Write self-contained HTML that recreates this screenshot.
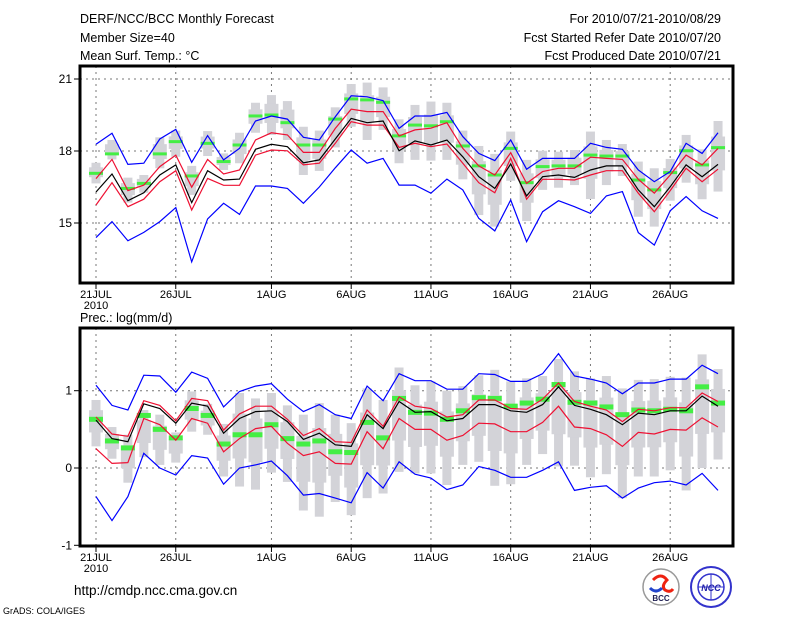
<!DOCTYPE html>
<html><head><meta charset="utf-8">
<style>
body{margin:0;background:#fff;}
svg{display:block;font-family:"Liberation Sans",sans-serif;}
</style></head>
<body>
<svg id="chart" width="800" height="618" viewBox="0 0 800 618">
<rect x="0" y="0" width="800" height="618" fill="#fff"/>
<g font-size="12.5" fill="#000">
<text x="80" y="23">DERF/NCC/BCC Monthly Forecast</text>
<text x="80" y="42">Member Size=40</text>
<text x="80" y="60">Mean Surf. Temp.: °C</text>
<text x="721" y="23" text-anchor="end">For 2010/07/21-2010/08/29</text>
<text x="721" y="42" text-anchor="end">Fcst Started Refer Date 2010/07/20</text>
<text x="721" y="60" text-anchor="end">Fcst Produced Date 2010/07/21</text>
<text x="80" y="322">Prec.: log(mm/d)</text>
<text x="74" y="595" font-size="13.5">http://cmdp.ncc.cma.gov.cn</text>
<text x="3" y="614" font-size="9">GrADS: COLA/IGES</text>
</g>
<g>
<circle cx="661" cy="587" r="18" fill="#fff" stroke="#999" stroke-width="1.5"/>
<path d="M653 580 q8 -8 14 0 q-6 6 -2 10 q5 3 8 -1" fill="none" stroke="#e21" stroke-width="3"/>
<path d="M650 588 q6 6 12 0" fill="none" stroke="#24c" stroke-width="3"/>
<text x="661" y="601" font-size="8" text-anchor="middle" font-weight="bold" fill="#225">BCC</text>
</g>
<g>
<circle cx="711" cy="587" r="20" fill="#fff" stroke="#33c" stroke-width="2"/>
<ellipse cx="711" cy="587" rx="13" ry="13" fill="none" stroke="#33c" stroke-width="1.5"/>
<line x1="698" y1="587" x2="724" y2="587" stroke="#33c"/>
<line x1="711" y1="574" x2="711" y2="600" stroke="#33c"/>
<text x="711" y="591" font-size="9" text-anchor="middle" font-weight="bold" font-style="italic" fill="#22a">NCC</text>
</g>
<g id="top"></g>
<g id="bot"></g>
</svg>
<script>
const days = ["21JUL","26JUL","1AUG","6AUG","11AUG","16AUG","21AUG","26AUG"];
const tickDayIdx = [0,5,11,16,21,26,31,36];
const topTicks = [21,18,15];
const botTicks = [1,0,-1];
const blackT = [16.29,17.04,15.93,16.26,17.0,17.42,15.85,17.18,16.79,16.83,18.07,18.28,18.18,17.51,17.63,18.5,19.36,19.18,19.25,18.01,18.42,18.25,18.46,17.76,16.93,16.44,17.46,16.13,16.93,17.0,16.9,17.21,17.38,17.38,16.38,15.68,16.51,17.42,16.93,17.44];
const redUT = [16.85,17.65,16.35,16.58,17.35,17.83,16.49,17.65,17.04,17.21,18.46,18.76,18.67,17.94,17.94,18.94,19.74,19.64,19.64,18.63,18.88,18.95,19.18,18.11,17.38,17.0,17.93,16.65,17.14,17.28,17.28,17.74,17.69,17.65,16.82,16.24,17.0,17.83,17.42,18.11];
const redLT = [15.75,16.68,15.68,15.99,16.72,17.18,15.54,16.86,16.57,16.57,17.83,18.04,18.01,17.42,17.49,18.32,19.22,19.08,19.08,18.15,18.32,18.18,18.29,17.49,16.68,16.26,17.69,15.99,16.82,16.82,16.79,17.0,17.18,17.18,16.24,15.47,16.35,17.28,16.72,17.24];
const blueUT = [18.28,18.74,17.44,17.49,18.5,18.9,17.53,18.64,17.63,18.11,19.25,19.46,19.33,18.57,18.46,19.43,20.3,20.26,20.1,18.94,19.46,19.46,19.61,18.6,17.9,17.6,18.46,17.24,17.69,17.69,17.69,18.32,18.15,18.07,17.21,16.72,17.14,18.32,17.9,18.76];
const blueLT = [14.39,15.06,14.26,14.61,15.06,15.64,13.38,15.17,15.82,15.36,16.54,16.54,16.44,15.82,16.5,17.3,18.04,17.49,17.69,16.58,16.58,16.24,16.83,16.38,15.19,14.67,15.96,14.22,15.47,15.93,15.68,15.4,16.13,16.31,14.6,14.08,15.51,16.1,15.51,15.19];
const greenT = [17.07,17.88,16.44,16.65,17.88,18.39,16.96,18.32,17.56,18.25,19.46,19.5,19.18,18.25,18.25,19.33,20.17,20.13,20.03,18.63,19.08,19.05,19.22,18.21,17.38,17.0,18.11,16.68,17.35,17.38,17.38,17.83,17.79,17.79,16.79,16.38,17.1,18.01,17.42,18.14];
const whHiT = [17.51,18.46,16.89,17.0,18.57,18.85,17.38,18.83,17.9,18.76,20.01,20.33,20.08,19.01,18.85,19.82,20.79,20.85,20.65,19.32,19.92,20.06,20.01,18.85,18.21,17.88,18.81,17.63,18.01,17.97,18.04,18.81,18.46,18.29,17.56,17.28,17.67,18.67,18.07,19.25];
const whLoT = [16.65,17.65,15.85,16.26,17.28,17.76,16.17,17.79,17.21,17.49,18.76,18.67,18.46,17.0,17.17,18.15,19.01,18.46,18.88,17.49,17.63,17.6,17.63,16.82,15.33,14.85,16.76,15.08,16.38,16.47,16.58,16.0,16.58,16.96,15.26,14.85,15.93,16.68,15.99,16.31];

const blackB = [0.62,0.38,0.34,0.83,0.77,0.58,0.84,0.8,0.45,0.64,0.73,0.74,0.6,0.37,0.45,0.3,0.28,0.69,0.51,0.86,0.72,0.73,0.61,0.64,0.82,0.82,0.74,0.72,0.82,1.05,0.81,0.76,0.69,0.56,0.71,0.69,0.74,0.74,0.93,0.8];
const redUB = [0.66,0.44,0.41,0.87,0.81,0.61,0.9,0.87,0.49,0.7,0.8,0.8,0.63,0.42,0.51,0.34,0.33,0.75,0.54,0.92,0.8,0.77,0.66,0.69,0.88,0.88,0.77,0.76,0.89,1.1,0.86,0.8,0.75,0.6,0.76,0.74,0.78,0.78,0.97,0.86];
const redLB = [0.25,0.06,0.07,0.64,0.56,0.36,0.64,0.58,0.21,0.38,0.51,0.54,0.32,0.16,0.21,0.06,0.05,0.47,0.25,0.64,0.5,0.5,0.36,0.42,0.58,0.57,0.47,0.47,0.59,0.8,0.53,0.51,0.43,0.28,0.46,0.44,0.5,0.49,0.65,0.53];
const blueUB = [1.07,0.81,0.75,1.2,1.19,0.98,1.24,1.16,0.79,0.99,1.06,1.09,0.89,0.73,0.82,0.69,0.64,1.06,0.87,1.22,1.13,1.13,1.02,1.02,1.22,1.21,1.12,1.12,1.22,1.48,1.19,1.15,1.1,0.96,1.1,1.1,1.15,1.15,1.33,1.22];
const blueLB = [-0.37,-0.68,-0.37,0.19,0.0,-0.09,0.16,0.13,-0.21,0.0,0.04,0.09,-0.1,-0.35,-0.33,-0.39,-0.45,-0.06,-0.26,0.08,-0.08,-0.13,-0.28,-0.22,0.02,-0.03,-0.12,-0.12,-0.03,0.08,-0.29,-0.25,-0.23,-0.39,-0.26,-0.19,-0.17,-0.22,-0.07,-0.29];
const greenB = [0.63,0.35,0.26,0.68,0.5,0.39,0.77,0.68,0.31,0.43,0.43,0.56,0.38,0.31,0.35,0.21,0.2,0.59,0.39,0.9,0.72,0.71,0.63,0.74,0.91,0.9,0.8,0.84,0.89,1.08,0.85,0.84,0.79,0.69,0.75,0.74,0.76,0.74,1.05,0.84];
const whHiB = [0.88,0.53,0.43,0.75,0.69,0.46,0.99,0.83,0.57,0.97,0.9,0.97,0.81,0.69,0.84,0.69,0.58,1.03,0.88,1.3,1.07,1.12,1.0,1.06,1.2,1.27,1.12,1.16,1.19,1.41,1.25,1.16,1.19,1.03,1.14,1.15,1.18,1.17,1.47,1.28];
const whLoB = [0.28,0.12,-0.19,0.14,0.04,0.07,0.47,0.43,-0.11,-0.24,-0.28,-0.06,-0.18,-0.55,-0.63,-0.44,-0.61,-0.39,-0.33,-0.05,-0.07,-0.07,-0.22,0.04,0.08,-0.23,-0.21,0.04,0.18,0.02,0.03,-0.12,-0.08,-0.39,-0.11,-0.11,-0.03,-0.29,0.0,0.11];

const NS = "http://www.w3.org/2000/svg";
const X0 = 96, DX = 15.95, LEFT = 80, RIGHT = 733;
function xDay(i){ return X0 + i*DX; }
function mk(parent, tag, attrs){ const e=document.createElementNS(NS,tag); for(const k in attrs) e.setAttribute(k,attrs[k]); parent.appendChild(e); return e; }

function panel(g, top, bottom, yOf, ticks, S, pname, gridVals){
  // grid
  tickDayIdx.forEach(d=>{
    const l = mk(g,"line",{x1:xDay(d),x2:xDay(d),y1:top,y2:bottom,stroke:"#777","stroke-width":1,"stroke-dasharray":"2,4"});
    
    
  });
  gridVals.forEach(v=>{
    const l = mk(g,"line",{x1:LEFT,x2:RIGHT,y1:yOf(v),y2:yOf(v),stroke:"#777","stroke-width":1,"stroke-dasharray":"2,4"});
    
    
  });
  // boxes
  S.whHi.forEach((hi,i)=>{
    const lo = S.whLo[i], x = xDay(i);
    const w = mk(g,"rect",{x:x-4.5,y:yOf(hi),width:9,height:Math.max(1,yOf(lo)-yOf(hi)),fill:"#d3d3d8"});
    
    
    const bHi = lo + (hi-lo)*0.78, bLo = lo + (hi-lo)*0.3;
    const b = mk(g,"rect",{x:x-7,y:yOf(bHi),width:14,height:Math.max(1,yOf(bLo)-yOf(bHi)),fill:"#d3d3d8"});
    
    
  });
  // green marks
  S.green.forEach((v,i)=>{
    const r = mk(g,"rect",{x:xDay(i)-7,y:yOf(v)-S.gh/2,width:14,height:S.gh,fill:"#44ee44"});
    
    
  });
  const lines = [[S.blueU,"#0000ff","blue-upper-line"],[S.blueL,"#0000ff","blue-lower-line"],[S.redU,"#ee1133","red-upper-line"],[S.redL,"#ee1133","red-lower-line"],[S.black,"#000","ensemble-mean-line"]];
  lines.forEach(([arr,c,n])=>{
    const p = mk(g,"polyline",{points:arr.map((v,i)=>xDay(i).toFixed(1)+","+yOf(v).toFixed(1)).join(" "),fill:"none",stroke:c,"stroke-width":1.2});
    
    
  });
  // frame
  const f = mk(g,"rect",{x:LEFT,y:top,width:RIGHT-LEFT,height:bottom-top,fill:"none",stroke:"#000","stroke-width":3});
  
  
  ticks.forEach(v=>{
    const t = mk(g,"line",{x1:LEFT-6,x2:LEFT,y1:yOf(v),y2:yOf(v),stroke:"#000","stroke-width":1});
    
    
    const tx = mk(g,"text",{x:LEFT-8,y:yOf(v)+4,"font-size":12,"text-anchor":"end"});
    tx.textContent = v;
    
    
  });
  tickDayIdx.forEach((d,k)=>{
    const t = mk(g,"line",{x1:xDay(d),x2:xDay(d),y1:bottom,y2:bottom+6,stroke:"#000","stroke-width":1});
    
    
    const tx = mk(g,"text",{x:xDay(d),y:bottom+15,"font-size":11,"text-anchor":"middle"});
    tx.textContent = days[k];
    
    
  });
  const yr = mk(g,"text",{x:xDay(0),y:bottom+26,"font-size":11,"text-anchor":"middle"});
  yr.textContent = "2010";
  
  
}
panel(document.getElementById("top"),66,283,v=>151-(v-18)*24,topTicks,
  {black:blackT,redU:redUT,redL:redLT,blueU:blueUT,blueL:blueLT,green:greenT,whHi:whHiT,whLo:whLoT,gh:3},"temperature-panel",[21,18,15]);
panel(document.getElementById("bot"),328,546,v=>468-v*77.3,botTicks,
  {black:blackB,redU:redUB,redL:redLB,blueU:blueUB,blueL:blueLB,green:greenB,whHi:whHiB,whLo:whLoB,gh:5},"precip-panel",[1,0]);
</script>
</body></html>
